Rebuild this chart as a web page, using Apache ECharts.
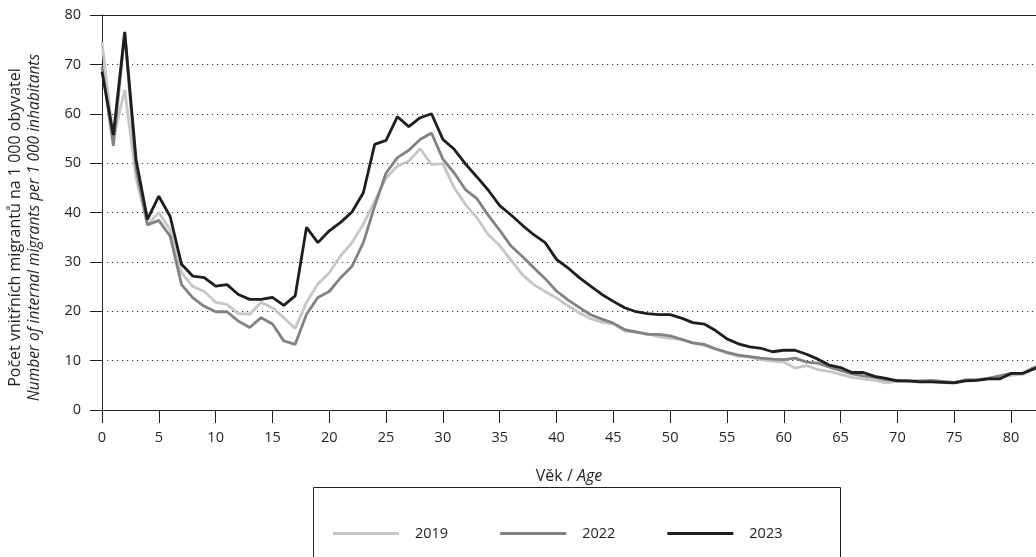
<!DOCTYPE html>
<html>
<head>
<meta charset="utf-8">
<script src="https://cdn.jsdelivr.net/npm/echarts@6/dist/echarts.min.js"></script>
<style>
html,body{margin:0;padding:0;background:#fff;}
#chart{width:1036px;height:557px;}
</style>
</head>
<body>
<div id="chart"></div>
<script>
const ages = [0,1,2,3,4,5,6,7,8,9,10,11,12,13,14,15,16,17,18,19,20,21,22,23,24,25,26,27,28,29,30,31,32,33,34,35,36,37,38,39,40,41,42,43,44,45,46,47,48,49,50,51,52,53,54,55,56,57,58,59,60,61,62,63,64,65,66,67,68,69,70,71,72,73,74,75,76,77,78,79,80,81,82,83];

const v2019 = [74.5,55,64.8,47,37.5,40,36.5,27.8,25,24,21.8,21.4,19.5,19.4,21.8,20.7,18.7,16.5,21.8,25.5,27.8,31.2,33.9,37.6,42.3,47,49.4,50.4,52.9,49.7,49.9,45,41.6,38.9,35.5,33.3,30.3,27.4,25.4,24,22.7,21.1,19.7,18.5,17.8,17.4,16,15.7,15.5,14.8,14.5,14.3,13.6,13.1,12.3,11.5,10.9,10.7,10.2,9.9,9.7,8.5,9,8.2,7.8,7.2,6.6,6.3,6,5.5,5.8,5.7,5.7,5.8,5.5,5.5,6.1,6.1,6.4,6.7,7,7.2,8.3,9.2];

const v2022 = [69.5,53.5,76.3,49,37.5,38.4,35.2,25.4,22.7,21,19.9,19.9,18,16.7,18.7,17.4,14,13.3,19.4,22.8,24,26.8,29.1,33.9,41.3,48,51.1,52.6,54.8,56.1,50.8,48,44.6,42.8,39.4,36.4,33.2,31.1,28.8,26.6,24.1,22.3,20.8,19.3,18.4,17.6,16.3,15.8,15.3,15.3,15,14.3,13.6,13.3,12.4,11.7,11.1,10.8,10.5,10.3,10.2,10.5,9.7,9.5,8.7,8,7.3,6.9,6.6,6.1,6,5.9,5.9,6,5.8,5.6,6.1,6.1,6.4,6.9,7.4,7.4,8.6,9.5];

const v2023 = [68.5,55.7,76.6,50.7,38.6,43.3,39.2,29.5,27.1,26.8,25.1,25.4,23.4,22.4,22.4,22.8,21.2,23.1,37,33.9,36.3,38,40.1,44,53.8,54.6,59.4,57.4,59.2,60,54.8,52.8,49.8,47.2,44.5,41.4,39.5,37.4,35.5,33.9,30.5,28.8,26.8,25.1,23.4,22,20.7,19.9,19.5,19.3,19.3,18.6,17.7,17.4,16.1,14.4,13.4,12.8,12.5,11.8,12.1,12.1,11.3,10.3,9.1,8.6,7.6,7.6,6.8,6.4,5.9,5.9,5.7,5.7,5.6,5.5,5.9,6,6.3,6.3,7.4,7.4,8.3,9.2];

const seriesNames = ['2019','2022','2023'];
const yTicks = [0,10,20,30,40,50,60,70,80];
const xTicks = [0,5,10,15,20,25,30,35,40,45,50,55,60,65,70,75,80];

const FONT = 'Open Sans';
const TXT = '#231f20';
const colors = ['#c6c6c6','#828282','#1e1e1e'];

function pairs(vals){ return ages.map((a,i)=>[a, vals[i]]); }

const chart = echarts.init(document.getElementById('chart'), null, {renderer:'canvas'});
const option = {
  animation:false,
  backgroundColor:'#fff',
  textStyle:{fontFamily:FONT,color:TXT},
  grid:{left:102,right:0,top:15,bottom:147,containLabel:false,outerBoundsMode:'none'},
  xAxis:[{
    type:'value',min:0,max:82.2,interval:5,
    name:'Věk / {i|Age}',nameLocation:'middle',nameGap:58,
    nameTextStyle:{fontFamily:FONT,fontSize:16,color:TXT,rich:{i:{fontStyle:'italic',fontFamily:FONT,fontSize:16,color:TXT}}},
    axisLine:{show:true,onZero:false,lineStyle:{color:TXT,width:1}},
    axisTick:{show:true,length:13,inside:false,lineStyle:{color:TXT,width:1}},
    axisLabel:{fontFamily:FONT,fontSize:14.5,color:TXT,margin:20,showMaxLabel:false,
      formatter:function(v){return xTicks.indexOf(v)>=0?String(v):'';}},
    splitLine:{show:false}
  },{
    type:'value',min:0,max:82.2,position:'top',
    axisLine:{show:true,onZero:false,lineStyle:{color:TXT,width:1}},
    axisTick:{show:false},axisLabel:{show:false},splitLine:{show:false}
  }],
  yAxis:{
    type:'value',min:0,max:80,interval:10,
    name:'{a|Počet vnitřních migrantů na 1 000 obyvatel}\n{b|Number of internal migrants per 1 000 inhabitants}',
    nameLocation:'middle',nameRotate:90,nameGap:57,
    nameTextStyle:{fontFamily:FONT,fontSize:16,color:TXT,lineHeight:20,padding:[0,30,0,0],
      rich:{a:{fontFamily:FONT,fontSize:16,color:TXT,lineHeight:20},b:{fontFamily:FONT,fontSize:15.5,fontStyle:'italic',color:TXT,lineHeight:20}}},
    axisLine:{show:true,lineStyle:{color:TXT,width:1}},
    axisTick:{show:true,length:12,lineStyle:{color:TXT,width:1}},
    axisLabel:{fontFamily:FONT,fontSize:14.5,color:TXT,margin:21,
      formatter:function(v){return yTicks.indexOf(v)>=0?String(v):'';}},
    splitLine:{show:true,lineStyle:{color:'#333',width:1.2,type:[1.2,3.8]}}
  },
  legend:{
    data:seriesNames,left:333,top:526,padding:0,itemWidth:66,itemHeight:14,itemGap:52,
    textStyle:{fontFamily:FONT,fontSize:14.5,color:TXT,padding:[0,0,0,11]},
    icon:'path://M0,5.5 L66,5.5 L66,8.5 L0,8.5 Z'
  },
  graphic:[{type:'rect',shape:{x:313.5,y:487.5,width:527,height:120},style:{fill:'none',stroke:TXT,lineWidth:1},silent:true}],
  series:[
    {name:'2019',type:'line',data:pairs(v2019),symbol:'none',clip:true,lineStyle:{color:colors[0],width:2.8},itemStyle:{color:colors[0]}},
    {name:'2022',type:'line',data:pairs(v2022),symbol:'none',clip:true,lineStyle:{color:colors[1],width:2.8},itemStyle:{color:colors[1]}},
    {name:'2023',type:'line',data:pairs(v2023),symbol:'none',clip:true,lineStyle:{color:colors[2],width:2.8},itemStyle:{color:colors[2]}}
  ]
};
chart.setOption(option);
</script>
</body>
</html>
